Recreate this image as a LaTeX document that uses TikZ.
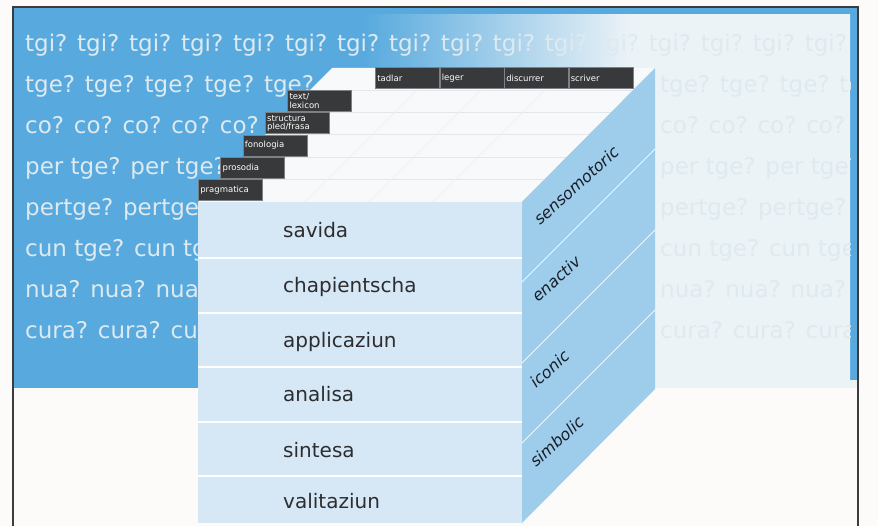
\documentclass[tikz,border=0pt]{standalone}
\usepackage{fontspec}
\setmainfont{DejaVu Sans}
\usepackage{tikz}
\usetikzlibrary{positioning}
\definecolor{bandblue}{RGB}{88,170,222}
\definecolor{bandpale}{RGB}{236,243,247}
\definecolor{pagewhite}{RGB}{253,251,250}
\definecolor{qtext}{RGB}{222,233,240}
\definecolor{frontblue}{RGB}{214,232,245}
\definecolor{sideblue}{RGB}{158,204,235}
\definecolor{topwhite}{RGB}{247,249,251}
\definecolor{topline}{RGB}{226,231,236}
\definecolor{tabgrey}{RGB}{56,57,59}
\definecolor{tabedge}{RGB}{125,128,132}
\definecolor{inkgrey}{RGB}{45,45,48}
\definecolor{modeink}{RGB}{25,30,38}
\definecolor{framegrey}{RGB}{60,60,62}
\pgfdeclarehorizontalshading{bandfade}{100bp}{color(0bp)=(bandblue); color(46bp)=(bandblue); color(62bp)=(bandpale); color(100bp)=(bandpale)}
\tikzset{
  qrow/.style={font=\fontsize{23}{23}\selectfont, text=qtext, anchor=base west, inner sep=0pt},
  level/.style={font=\fontsize{20}{20}\selectfont, text=inkgrey, anchor=base west, inner sep=0pt},
  mode/.style={font=\itshape\fontsize{16}{16}\selectfont, text=modeink, anchor=base west, inner sep=0pt, rotate=42},
  tab/.style={rectangle, fill=tabgrey, draw=tabedge, line width=0.6pt, minimum height=21pt, text width=60pt, align=left, inner sep=2pt, text=white, font=\fontsize{8.5}{8.5}\selectfont, anchor=south west},
  sep/.style={draw=white, line width=1.4pt},
  sidesep/.style={draw=white!85!sideblue, line width=0.8pt},
  stripe/.style={draw=topline, line width=0.8pt},
}
\begin{document}
\begin{tikzpicture}[x=1pt,y=-1pt]
  \useasboundingbox (0,0) rectangle (878,526);
  \fill[pagewhite] (0,0) rectangle (878,526);
  % question band
  \fill[bandblue] (13,7) rectangle (858,388);
  \shade[shading=bandfade] (13,15) rectangle (850,388);
  \fill[bandpale] (850,380) rectangle (858,388);
  \begin{scope}
    \clip (13,7) rectangle (850,388);
    \node[qrow] (q0) at (25,52) {tgi? tgi? tgi? tgi? tgi? tgi? tgi? tgi? tgi? tgi? tgi? tgi? tgi? tgi? tgi? tgi? tgi?};
    \foreach \i/\l/\r in {1/{tge? tge? tge? tge? tge?}/{tge? tge? tge? tge},
                          2/{co? co? co? co? co? co?}/{co? co? co? co? co?},
                          3/{per tge? per tge?}/{per tge? per tge?},
                          4/{pertge? pertge?}/{pertge? pertge? pertge?},
                          5/{cun tge? cun tge?}/{cun tge? cun tge?},
                          6/{nua? nua? nua?}/{nua? nua? nua? nua?},
                          7/{cura? cura? cura?}/{cura? cura? cura?}}{
      \node[qrow] (q\i) at (25,{52+41*\i}) {\l};
      \node[qrow] (q\i r) at (660,{52+41*\i}) {\r};
    }
  \end{scope}
  % cube
  \coordinate (ftl) at (198,202);
  \coordinate (ftr) at (522,202);
  \coordinate (fbr) at (522,523);
  \coordinate (fbl) at (198,523);
  \coordinate (btl) at (332,68);
  \coordinate (btr) at (655,68);
  \coordinate (bbr) at (655,389);
  \fill[topwhite] (ftl) -- (ftr) -- (btr) -- (btl) -- cycle;
  \begin{scope}
    \clip (ftl) -- (ftr) -- (btr) -- (btl) -- cycle;
    \foreach \y in {90,112,134,157,179}{\draw[stripe] (190,\y) -- (660,\y);}
    \foreach \x in {439,503,567}{\draw[stripe,draw=topline!60] (\x,68) -- ({\x-134},202);}
  \end{scope}
  \fill[sideblue] (ftr) -- (btr) -- (bbr) -- (fbr) -- cycle;
  \foreach \y in {282,363,443}{\draw[sidesep] (522,\y) -- (655,{\y-133});}
  \fill[frontblue] (ftl) rectangle (fbr);
  \foreach \y in {258,313,367,422,476}{\draw[sep] (198,\y) -- (522,\y);}
  \foreach \i/\n/\y in {1/savida/238,2/chapientscha/293,3/applicaziun/348,4/analisa/402,5/sintesa/457,6/valitaziun/508}{
    \node[level] (lvl\i) at (283,\y) {\n};
  }
  \foreach \n/\x/\y in {sensomotoric/540/226,enactiv/538/303,iconic/536/389,simbolic/536/468}{
    \node[mode] (m-\n) at (\x,\y) {\n};
  }
  % tabs on the top face
  \foreach \i/\n in {0/pragmatica,1/prosodia,2/fonologia,3/{structura\\pled/frasa},4/{text/\\lexicon}}{
    \node[tab] (lay\i) at ({198+22.3*\i},{201-22.3*\i}) {\n};
  }
  \foreach \i/\n in {0/tadlar,1/leger,2/discurrer,3/scriver}{
    \node[tab] (skill\i) at ({375+64.5*\i},89) {\n};
  }
  \draw[framegrey, line width=1.2pt] (13,526) -- (13,7) -- (858,7) -- (858,526);
\end{tikzpicture}
\end{document}
